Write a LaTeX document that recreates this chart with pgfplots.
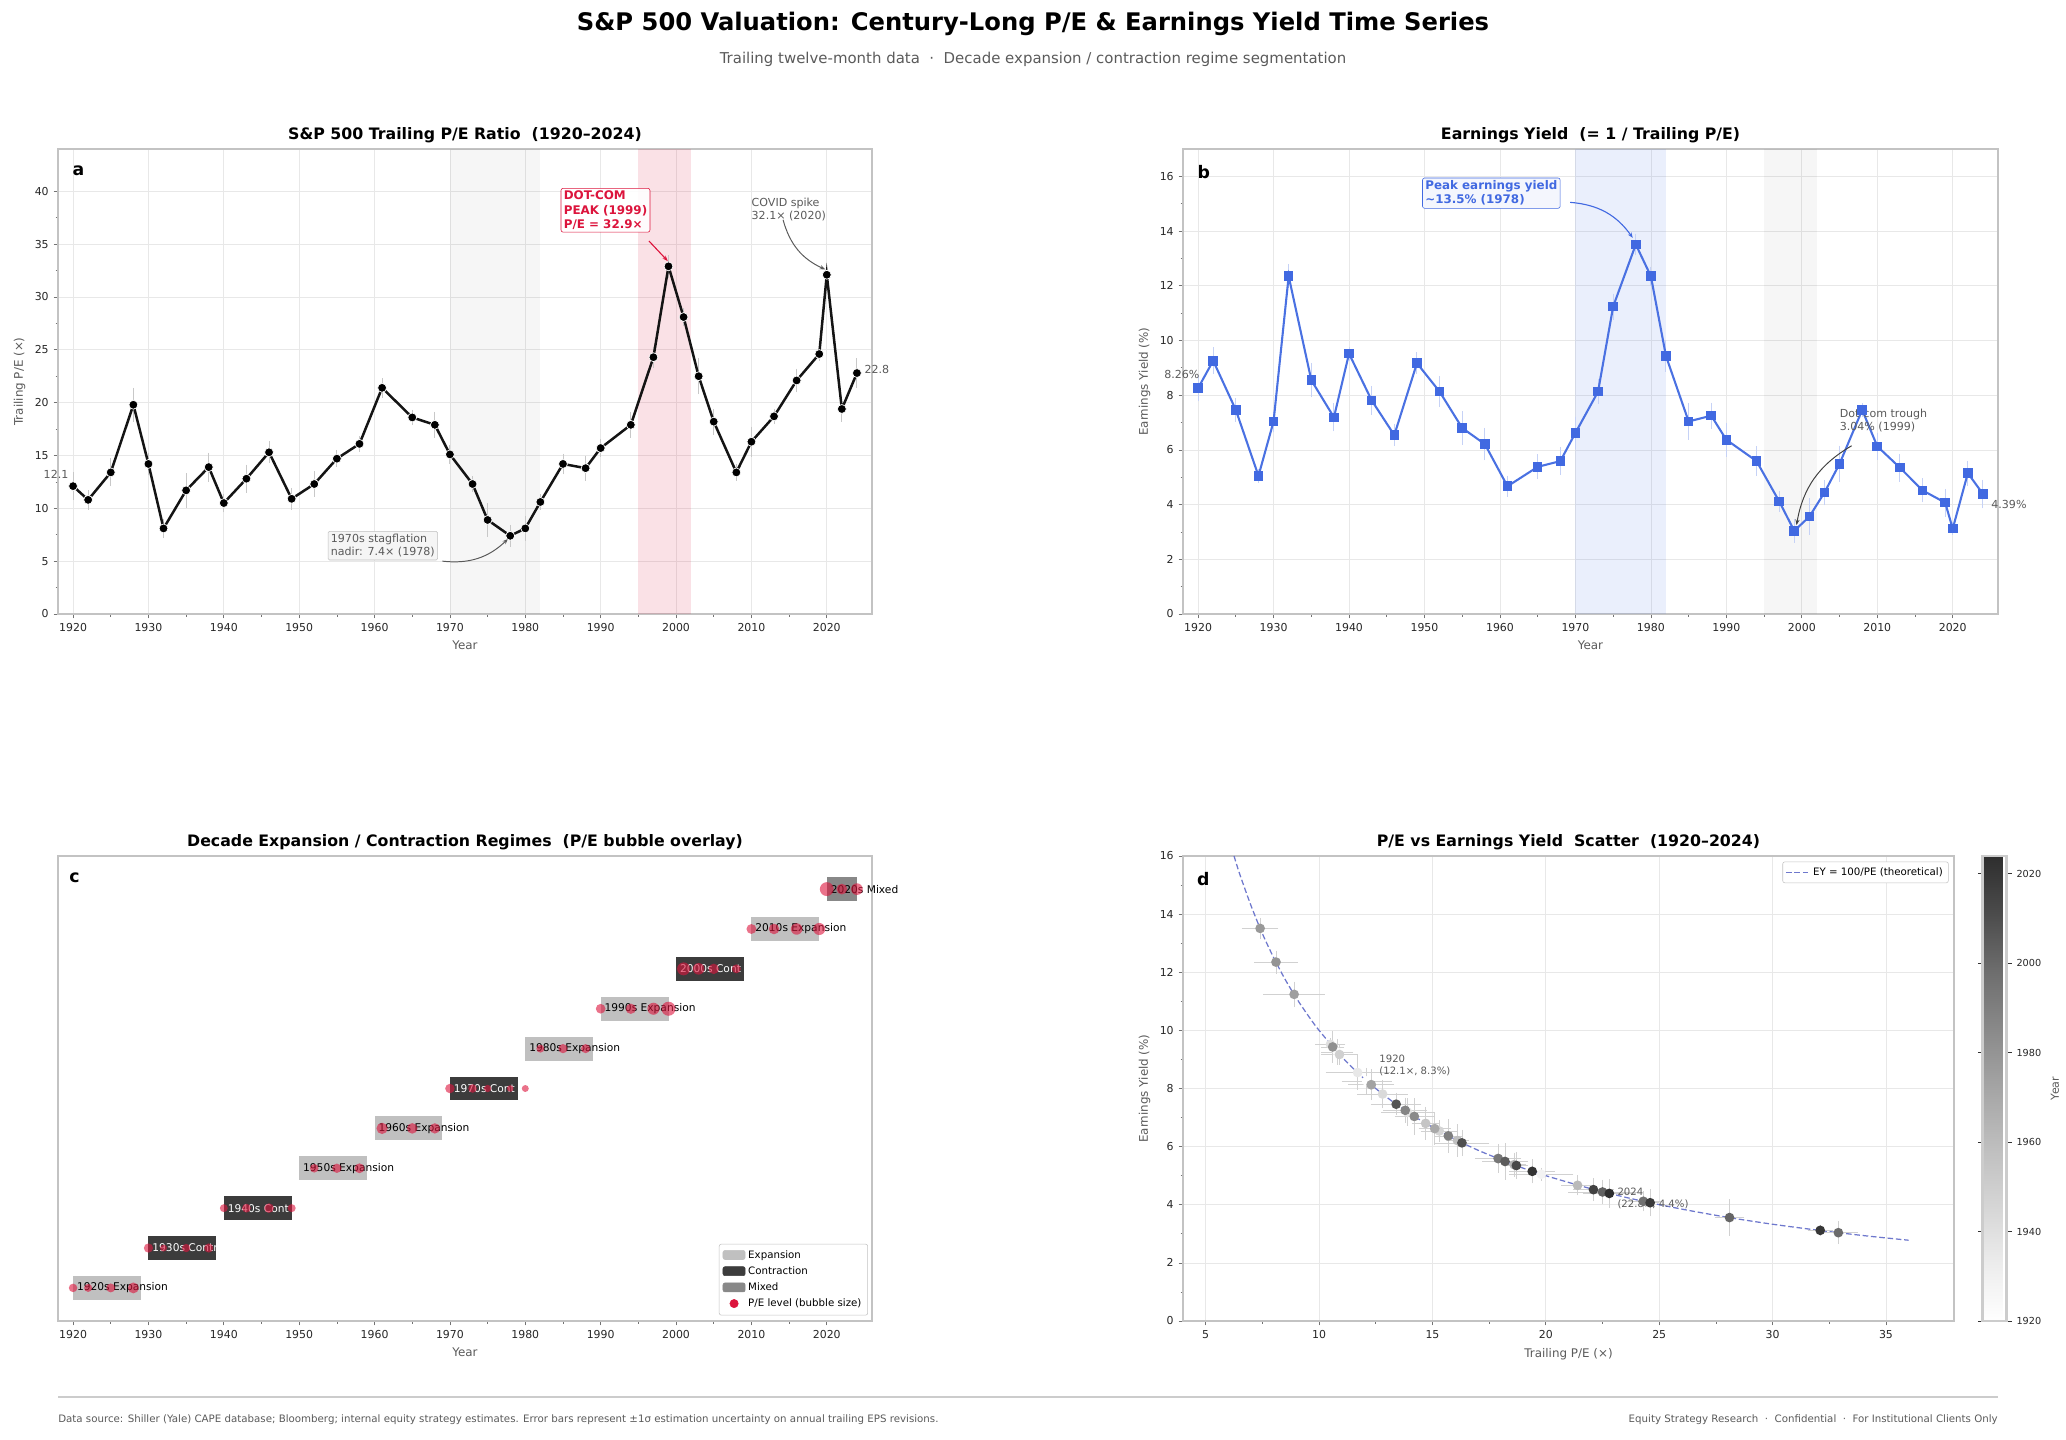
\documentclass[border=0pt]{standalone}
\usepackage{fontspec}
\setmainfont{DejaVu Sans}
\usepackage{pgfplots}
\pgfplotsset{compat=1.18}
\usepackage{pgfplotstable}
\usetikzlibrary{arrows.meta}

\definecolor{crim}{RGB}{220,20,60}
\definecolor{royal}{RGB}{65,105,225}
\definecolor{expc}{RGB}{192,192,192}
\definecolor{conc}{RGB}{60,60,60}
\definecolor{mixc}{RGB}{136,136,136}
\definecolor{txtgray}{RGB}{90,90,90}
\definecolor{gridc}{RGB}{232,232,232}
\definecolor{framec}{RGB}{195,195,195}
\definecolor{theo}{RGB}{110,120,205}
\definecolor{errc}{RGB}{200,200,200}

\pgfplotstableread{
year pe pee ey eye row r
1920 12.1 1.0 8.26 0.36 0 3.06
1922 10.8 0.6 9.26 0.36 0 2.89
1925 13.4 1.0 7.46 0.30 0 3.22
1928 19.8 1.3 5.05 0.13 0 3.92
1930 14.2 0.75 7.04 0.26 1 3.32
1932 8.1 0.6 12.35 0.31 1 2.50
1935 11.7 1.3 8.55 0.50 1 3.01
1938 13.9 1.05 7.19 0.39 1 3.28
1940 10.5 0.55 9.52 0.13 2 2.85
1943 12.8 1.0 7.81 0.40 2 3.15
1946 15.3 0.7 6.54 0.28 2 3.44
1949 10.9 0.7 9.17 0.27 2 2.91
1952 12.3 0.9 8.13 0.44 3 3.09
1955 14.7 0.5 6.80 0.48 3 3.37
1958 16.1 0.4 6.21 0.47 3 3.53
1961 21.4 0.6 4.67 0.26 4 4.07
1965 18.6 0.4 5.38 0.33 4 3.80
1968 17.9 0.9 5.59 0.39 4 3.72
1970 15.1 0.6 6.62 0.47 5 3.42
1973 12.3 0.4 8.13 0.32 5 3.09
1975 8.9 1.25 11.24 0.35 5 2.63
1978 7.4 0.7 13.51 0.27 5 2.39
1980 8.1 0.85 12.35 0.22 5 2.50
1982 10.6 0.4 9.43 0.45 6 2.87
1985 14.2 0.65 7.04 0.54 6 3.32
1988 13.8 0.85 7.25 0.35 6 3.27
1990 15.7 0.5 6.37 0.49 7 3.49
1994 17.9 0.9 5.59 0.41 7 3.72
1997 24.3 0.65 4.12 0.26 7 4.34
1999 32.9 0.75 3.04 0.31 7 5.05
2001 28.1 0.55 3.56 0.54 8 4.66
2003 22.5 1.4 4.44 0.34 8 4.17
2005 18.2 0.9 5.49 0.54 8 3.75
2008 13.4 0.45 7.46 0.12 8 3.22
2010 16.3 1.1 6.13 0.37 9 3.55
2013 18.7 0.4 5.35 0.38 9 3.81
2016 22.1 0.8 4.52 0.31 9 4.14
2019 24.6 0.3 4.07 0.38 9 4.36
2020 32.1 0.45 3.12 0.10 10 4.99
2022 19.4 0.9 5.15 0.33 10 3.88
2024 22.8 1.05 4.39 0.40 10 4.20
}\data

\pgfplotsset{
  myaxis/.style={
    scale only axis,
    axis line style={framec, line width=0.8bp},
    tick pos=left,
    tick style={color=black!55, line width=0.5pt},
    tick align=outside,
    major tick length=3.2bp,
    minor tick length=1.8bp,
    tick label style={font=\fontsize{7.9}{9}\selectfont, color=black!85},
    label style={font=\fontsize{8.6}{10}\selectfont, color=txtgray},
    title style={font=\bfseries\fontsize{11.4}{13}\selectfont, yshift=-5bp},
    grid style={gridc, line width=0.5pt},
    /pgf/number format/assume math mode=true,
    /pgf/number format/1000 sep={},
    clip=false,
  },
}

\begin{document}
\begin{tikzpicture}
\path[use as bounding box] (0,0) rectangle (1487.52bp,-1036.8bp);

\node[font=\bfseries\fontsize{17.5}{21}\selectfont] at (743.76bp,-17.28bp) {S\&P 500 Valuation: Century-Long P/E \& Earnings Yield Time Series};
\node[font=\fontsize{10.8}{13}\selectfont, text=txtgray] at (743.76bp,-42.48bp) {Trailing twelve-month data\ \ ·\ \ Decade expansion / contraction regime segmentation};

% ---------------- Panel a ----------------
\begin{axis}[myaxis, at={(41.76bp,-107.28bp)}, anchor=north west,
  width=586.08bp, height=334.8bp,
  xmin=1918, xmax=2026, ymin=0, ymax=44,
  xtick={1920,1930,...,2020}, ytick={0,5,...,40},
  minor x tick num=1, minor y tick num=1,
  grid=major,
  xlabel={Year}, ylabel={Trailing P/E (×)},
  title={S\&P 500 Trailing P/E Ratio\ \ (1920–2024)}]
\addplot[draw=none, fill=black, fill opacity=0.035, forget plot] coordinates {(1970,0) (1982,0) (1982,44) (1970,44)};
\addplot[draw=none, fill=crim, fill opacity=0.13, forget plot] coordinates {(1995,0) (2002,0) (2002,44) (1995,44)};
\addplot[only marks, mark=none, forget plot,
  error bars/.cd, y dir=both, y explicit,
  error bar style={color=errc, line width=0.7pt},
  error mark options={color=errc, mark size=2.5bp, line width=0.7pt}]
  table[x=year, y=pe, y error=pee] {\data};
\addplot[color=black!92, line width=1.8bp, mark=*, mark size=3.2bp,
  mark options={fill=black, draw=white, line width=0.5bp}]
  table[x=year, y=pe] {\data};
\node[anchor=north west, font=\bfseries\fontsize{12.5}{14}\selectfont] at (axis description cs:0.012,0.975) {a};
\node[anchor=east, font=\fontsize{8}{9}\selectfont, text=txtgray, inner sep=1bp] at (axis cs:1919.6,13.2) {12.1};
\node[anchor=west, font=\fontsize{8}{9}\selectfont, text=txtgray, inner sep=1bp] at (axis cs:2024.8,23.1) {22.8};
\node[anchor=north west, draw=crim, fill=white, fill opacity=0.9, text opacity=1, rounded corners=1.5bp, inner sep=2bp, align=left, text=crim, font=\bfseries\fontsize{8.6}{10.2}\selectfont] at (axis cs:1984.7,40.3) {DOT-COM\\PEAK (1999)\\P/E = 32.9×};
\draw[crim, line width=0.8bp, -{Stealth[length=4bp,width=3bp]}] (axis cs:1996.4,35.3) -- (axis cs:1998.9,33.4);
\node[anchor=north west, align=left, text=txtgray, inner sep=0bp, font=\fontsize{8}{9.6}\selectfont] at (axis cs:2010.0,39.4) {COVID spike\\32.1× (2020)};
\draw[black!65, line width=0.7bp, -{Stealth[length=4bp,width=3bp]}] (axis cs:2014.2,37.3) to[bend right=25] (axis cs:2019.8,32.6);
\node[anchor=north west, draw=black!25, fill=black!4, rounded corners=1bp, inner sep=2bp, align=left, text=txtgray, font=\fontsize{8}{9.6}\selectfont] at (axis cs:1953.8,7.85) {1970s stagflation\\nadir: 7.4× (1978)};
\draw[black!65, line width=0.7bp, -{Stealth[length=4bp,width=3bp]}] (axis cs:1969.0,5.0) to[bend right=25] (axis cs:1977.7,7.1);
\end{axis}

% ---------------- Panel b ----------------
\begin{axis}[myaxis, at={(851.76bp,-107.28bp)}, anchor=north west,
  width=586.8bp, height=334.8bp,
  xmin=1918, xmax=2026, ymin=0, ymax=17,
  xtick={1920,1930,...,2020}, ytick={0,2,...,16},
  minor x tick num=1, minor y tick num=1,
  grid=major,
  xlabel={Year}, ylabel={Earnings Yield (\%)},
  title={Earnings Yield\ \ (= 1 / Trailing P/E)}]
\addplot[draw=none, fill=royal, fill opacity=0.11, forget plot] coordinates {(1970,0) (1982,0) (1982,17) (1970,17)};
\addplot[draw=none, fill=black, fill opacity=0.035, forget plot] coordinates {(1995,0) (2002,0) (2002,17) (1995,17)};
\addplot[only marks, mark=none, forget plot,
  error bars/.cd, y dir=both, y explicit,
  error bar style={color=royal!30, line width=0.7pt},
  error mark options={color=royal!30, mark size=2.5bp, line width=0.7pt}]
  table[x=year, y=ey, y error=eye] {\data};
\addplot[color=royal!95!white, line width=1.5bp, mark=square*, mark size=2.7bp,
  mark options={fill=royal, draw=royal}]
  table[x=year, y=ey] {\data};
\node[anchor=north west, font=\bfseries\fontsize{12.5}{14}\selectfont] at (axis description cs:0.012,0.975) {b};
\node[anchor=east, font=\fontsize{8}{9}\selectfont, text=txtgray, inner sep=1bp] at (axis cs:1920.4,8.75) {8.26\%};
\node[anchor=west, font=\fontsize{8}{9}\selectfont, text=txtgray, inner sep=1bp] at (axis cs:2024.9,4.0) {4.39\%};
\node[anchor=north west, draw=royal, fill=royal!6, rounded corners=1.5bp, inner sep=2bp, align=left, text=royal, font=\bfseries\fontsize{8.6}{10.2}\selectfont] at (axis cs:1949.7,15.95) {Peak earnings yield\\\textasciitilde13.5\% (1978)};
\draw[royal, line width=0.8bp, -{Stealth[length=4bp,width=3bp]}] (axis cs:1969.3,15.05) to[bend left=25] (axis cs:1977.6,13.75);
\node[anchor=north west, align=left, text=txtgray, inner sep=0bp, font=\fontsize{8}{9.6}\selectfont] at (axis cs:2005.0,7.5) {Dot-com trough\\3.04\% (1999)};
\draw[black!75, line width=0.7bp, -{Stealth[length=4bp,width=3bp]}] (axis cs:2006.6,6.15) to[bend right=25] (axis cs:1999.3,3.25);
\end{axis}

% ---------------- Panel c ----------------
\begin{axis}[myaxis, at={(41.76bp,-616.32bp)}, anchor=north west,
  width=586.08bp, height=334.8bp,
  xmin=1918, xmax=2026, ymin=-0.83, ymax=10.83,
  xtick={1920,1930,...,2020}, ytick=\empty,
  minor x tick num=1,
  xlabel={Year},
  title={Decade Expansion / Contraction Regimes\ \ (P/E bubble overlay)},
  legend style={at={(0.995,0.012)}, anchor=south east, font=\fontsize{7.4}{8.8}\selectfont, draw=framec, rounded corners=1.5bp, row sep=0.6bp, inner sep=2.5bp},
  legend cell align=left]
\addplot[draw=none, fill=expc, forget plot] coordinates {(1920,-0.3) (1929,-0.3) (1929,0.3) (1920,0.3)};
\addplot[draw=none, fill=conc, forget plot] coordinates {(1930,0.7) (1939,0.7) (1939,1.3) (1930,1.3)};
\addplot[draw=none, fill=conc, forget plot] coordinates {(1940,1.7) (1949,1.7) (1949,2.3) (1940,2.3)};
\addplot[draw=none, fill=expc, forget plot] coordinates {(1950,2.7) (1959,2.7) (1959,3.3) (1950,3.3)};
\addplot[draw=none, fill=expc, forget plot] coordinates {(1960,3.7) (1969,3.7) (1969,4.3) (1960,4.3)};
\addplot[draw=none, fill=conc, forget plot] coordinates {(1970,4.7) (1979,4.7) (1979,5.3) (1970,5.3)};
\addplot[draw=none, fill=expc, forget plot] coordinates {(1980,5.7) (1989,5.7) (1989,6.3) (1980,6.3)};
\addplot[draw=none, fill=expc, forget plot] coordinates {(1990,6.7) (1999,6.7) (1999,7.3) (1990,7.3)};
\addplot[draw=none, fill=conc, forget plot] coordinates {(2000,7.7) (2009,7.7) (2009,8.3) (2000,8.3)};
\addplot[draw=none, fill=expc, forget plot] coordinates {(2010,8.7) (2019,8.7) (2019,9.3) (2010,9.3)};
\addplot[draw=none, fill=mixc, forget plot] coordinates {(2020,9.7) (2024,9.7) (2024,10.3) (2020,10.3)};
\begin{scope}[font=\fontsize{7.7}{9}\selectfont]
\node[anchor=west, inner sep=0.5bp] at (axis cs:1920.4,0) {1920s Expansion};
\node[anchor=west, inner sep=0.5bp, text=white] at (axis cs:1930.4,1) {1930s Contr};
\node[anchor=west, inner sep=0.5bp, text=white] at (axis cs:1940.4,2) {1940s Cont};
\node[anchor=west, inner sep=0.5bp] at (axis cs:1950.4,3) {1950s Expansion};
\node[anchor=west, inner sep=0.5bp] at (axis cs:1960.4,4) {1960s Expansion};
\node[anchor=west, inner sep=0.5bp, text=white] at (axis cs:1970.4,5) {1970s Cont};
\node[anchor=west, inner sep=0.5bp] at (axis cs:1980.4,6) {1980s Expansion};
\node[anchor=west, inner sep=0.5bp] at (axis cs:1990.4,7) {1990s Expansion};
\node[anchor=west, inner sep=0.5bp, text=white] at (axis cs:2000.4,8) {2000s Cont};
\node[anchor=west, inner sep=0.5bp] at (axis cs:2010.4,9) {2010s Expansion};
\node[anchor=west, inner sep=0.5bp] at (axis cs:2020.4,10) {2020s Mixed};
\end{scope}
\addplot[scatter, only marks, mark=*, forget plot,
  scatter/use mapped color={draw=crim, fill=crim, draw opacity=0, fill opacity=0.6},
  visualization depends on={\thisrow{r} \as \rr},
  scatter/@pre marker code/.append style={/tikz/mark size=\rr bp}]
  table[x=year, y=row] {\data};
\node[anchor=north west, font=\bfseries\fontsize{12.5}{14}\selectfont] at (axis description cs:0.008,0.975) {c};
\addlegendimage{legend image code/.code={\fill[expc] (0bp,-3bp) rectangle (16bp,3.5bp);}}
\addlegendentry{Expansion}
\addlegendimage{legend image code/.code={\fill[conc] (0bp,-3bp) rectangle (16bp,3.5bp);}}
\addlegendentry{Contraction}
\addlegendimage{legend image code/.code={\fill[mixc] (0bp,-3bp) rectangle (16bp,3.5bp);}}
\addlegendentry{Mixed}
\addlegendimage{legend image code/.code={\fill[crim] (8bp,0.3bp) circle (3bp);}}
\addlegendentry{P/E level (bubble size)}
\end{axis}

% ---------------- Panel d ----------------
\begin{axis}[myaxis, at={(851.76bp,-616.32bp)}, anchor=north west,
  width=555.12bp, height=334.8bp,
  xmin=4, xmax=38, ymin=0, ymax=16,
  xtick={5,10,...,35}, ytick={0,2,...,16},
  minor x tick num=1, minor y tick num=1,
  grid=major,
  xlabel={Trailing P/E (×)}, ylabel={Earnings Yield (\%)},
  title={P/E vs Earnings Yield\ \ Scatter\ \ (1920–2024)},
  colormap={greysa}{rgb255=(255,255,255) rgb255=(236,236,236) rgb255=(213,213,213) rgb255=(190,190,190) rgb255=(165,165,165) rgb255=(138,138,138) rgb255=(110,110,110) rgb255=(76,76,76) rgb255=(46,46,46)},
  point meta min=1920, point meta max=2024,
  colorbar,
  colorbar style={
    at={(parent axis.north east)}, anchor=north west, xshift=12.24bp,
    scale only axis, width=17.28bp, height=334.8bp,
    ytick={1920,1940,1960,1980,2000,2020},
    yticklabel style={font=\fontsize{7}{8}\selectfont},
    ylabel={Year}, ylabel style={font=\fontsize{8}{9}\selectfont, color=txtgray},
    axis line style={draw=black!20, line width=2bp},
    /pgf/number format/1000 sep={},
    /pgf/number format/assume math mode=true,
    tick style={black!80, line width=0.7pt}, major tick length=3.5bp, tick align=outside,
  },
  legend style={at={(0.993,0.988)}, anchor=north east, font=\fontsize{7.4}{8.8}\selectfont, draw=framec, rounded corners=1.5bp, inner sep=2bp},
  legend cell align=left]
\addplot[theo, line width=0.9bp, dash pattern=on 4bp off 2bp, smooth] coordinates {
(6.25,16) (6.5,15.38) (7,14.29) (7.5,13.33) (8,12.5) (8.5,11.76) (9,11.11) (9.5,10.53) (10,10) (11,9.09) (12,8.33) (13,7.69) (14,7.14) (15,6.67) (16,6.25) (17,5.88) (18,5.56) (19,5.26) (20,5) (22,4.55) (24,4.17) (26,3.85) (28,3.57) (30,3.33) (32,3.125) (34,2.94) (36,2.78)};
\addlegendentry{EY = 100/PE (theoretical)}
\addplot[only marks, mark=none, forget plot,
  error bars/.cd, x dir=both, x explicit, y dir=both, y explicit,
  error bar style={color=black!18, line width=0.5pt},
  error mark options={color=black!18, mark size=1.8bp, line width=0.5pt}]
  table[x=pe, y=ey, x error=pee, y error=eye] {\data};
\addplot[scatter, only marks, mark=*, mark size=3.5bp, forget plot,
  scatter/use mapped color={draw=mapped color, fill=mapped color, draw opacity=0},
  point meta=\thisrow{year}]
  table[x=pe, y=ey] {\data};
\node[anchor=north west, font=\bfseries\fontsize{12.5}{14}\selectfont] at (axis description cs:0.012,0.975) {d};
\node[anchor=north west, align=left, text=txtgray, inner sep=0bp, font=\fontsize{7.3}{8.6}\selectfont] at (axis cs:12.65,9.15) {1920\\(12.1×, 8.3\%)};
\node[anchor=north west, align=left, text=txtgray, inner sep=0bp, font=\fontsize{7.3}{8.6}\selectfont] at (axis cs:23.15,4.6) {2024\\(22.8×, 4.4\%)};
\end{axis}

% ---------------- Footer ----------------
\draw[black!20, line width=0.8bp] (41.76bp,-1005.84bp) -- (1438.56bp,-1005.84bp);
\node[anchor=west, inner sep=0bp, text=txtgray, font=\fontsize{7.4}{8.8}\selectfont] at (41.76bp,-1022.4bp) {Data source: Shiller (Yale) CAPE database; Bloomberg; internal equity strategy estimates. Error bars represent ±1σ estimation uncertainty on annual trailing EPS revisions.};
\node[anchor=east, inner sep=0bp, text=txtgray, font=\fontsize{7.4}{8.8}\selectfont] at (1438.56bp,-1022.4bp) {Equity Strategy Research\ \ ·\ \ Confidential\ \ ·\ \ For Institutional Clients Only};
\end{tikzpicture}
\end{document}
